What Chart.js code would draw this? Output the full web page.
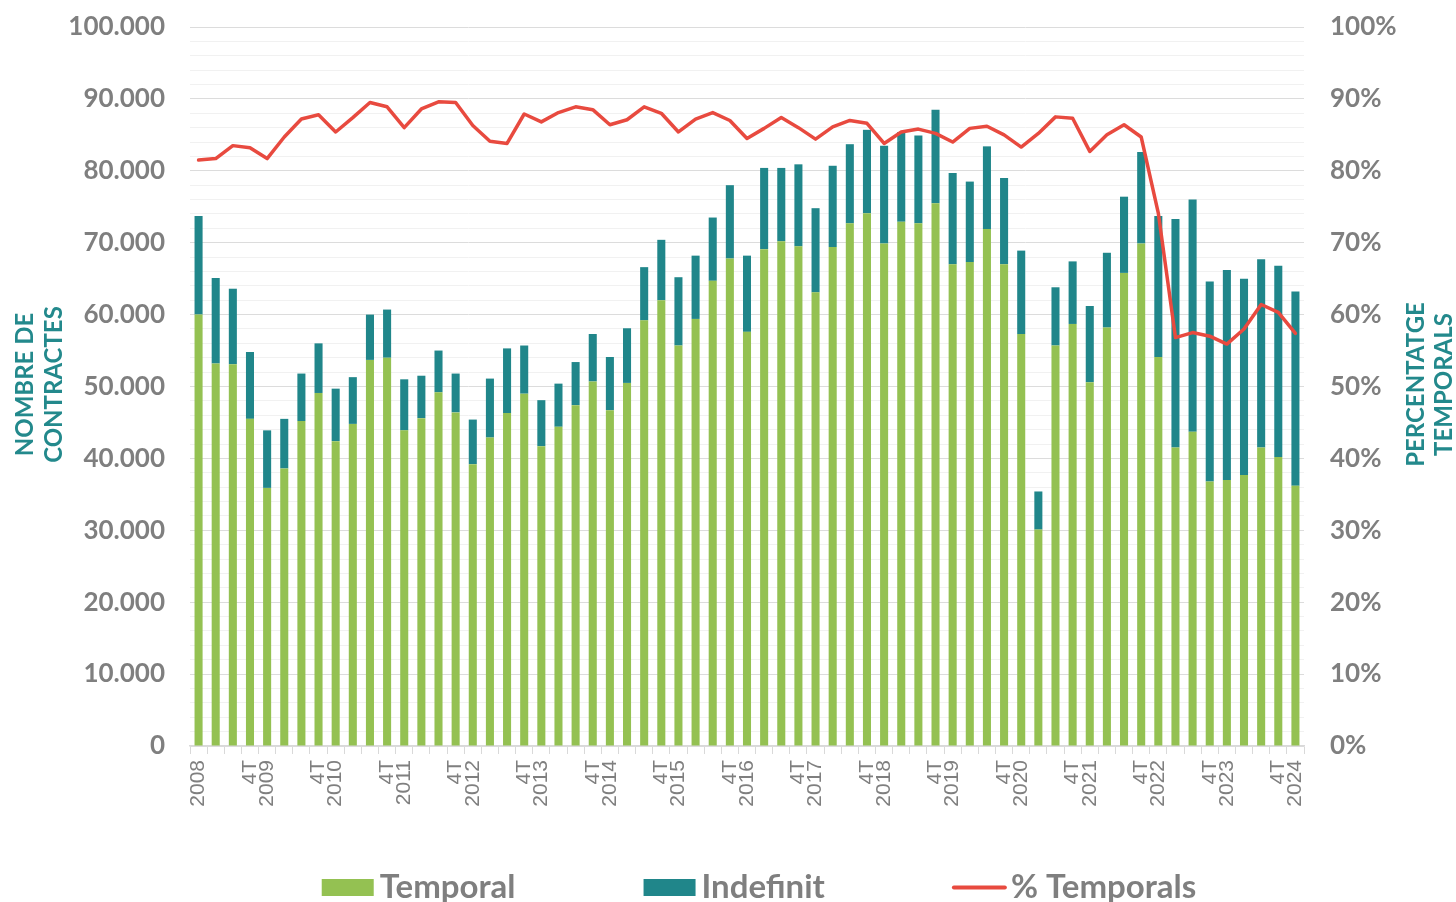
<!DOCTYPE html>
<html>
<head>
<meta charset="utf-8">
<script src="https://cdn.jsdelivr.net/npm/chart.js@4.4.1/dist/chart.umd.min.js"></script>
<style>
html,body{margin:0;padding:0;background:#ffffff;overflow:hidden;}
canvas{display:block;}
</style>
</head>
<body>
<canvas id="c" width="1456" height="902"></canvas>
<script>
// ---------- DATA ----------
const years = [2008,2009,2010,2011,2012,2013,2014,2015,2016,2017,2018,2019,2020,2021,2022,2023,2024];
const quarters = ['1T','2T','3T','4T'];
const quartersInLastYear = 1;

const categories = [];
years.forEach((y, yi) => {
  const n = (yi === years.length - 1) ? quartersInLastYear : 4;
  for (let q = 0; q < n; q++) categories.push(quarters[q] + ' ' + y);
});

// tick labels: year on 1st quarter, "4T" on 4th quarter
const tickLabels = categories.map(c => {
  const [q, y] = c.split(' ');
  if (q === '1T') return y;
  if (q === '4T') return '4T';
  return '';
});

const temporal = [
  60000,53200,53100,45500, 35900,38600,45200,49100, 42400,44800,53700,54000, 43900,45600,49200,46400,
  39200,42900,46300,49000, 41700,44400,47400,50700, 46700,50500,59200,62000, 55700,59400,64700,67800,
  57600,69100,70200,69500, 63100,69400,72700,74100, 69900,72900,72700,75500, 67000,67300,71900,67000,
  57300,30100,55700,58700, 50600,58200,65800,69900, 54100,41500,43700,36800, 37000,37700,41500,40200,
  36200
];
const indefinit = [
  13700,11900,10500,9300, 8000,6900,6600,6900, 7300,6500,6300,6700, 7100,5900,5800,5400,
  6200,8200,9000,6700, 6400,6000,6000,6600, 7400,7600,7400,8400, 9500,8800,8800,10200,
  10600,11300,10200,11400, 11700,11300,11000,11600, 13600,12500,12200,13000, 12700,11200,11500,12000,
  11600,5300,8100,8700, 10600,10400,10600,12700, 19600,31800,32300,27800, 29200,27300,26200,26600,
  27000
];
const pctTemporals = [
  81.5,81.7,83.5,83.2, 81.7,84.7,87.2,87.8, 85.4,87.4,89.5,88.9, 86.0,88.6,89.6,89.5,
  86.3,84.1,83.8,87.9, 86.8,88.1,88.9,88.5, 86.4,87.1,88.9,88.0, 85.4,87.2,88.1,87.0,
  84.5,85.9,87.4,86.0, 84.4,86.1,87.0,86.6, 83.8,85.4,85.8,85.2, 84.0,85.9,86.2,85.0,
  83.3,85.2,87.5,87.3, 82.7,85.0,86.4,84.7, 74.1,56.8,57.5,57.0, 55.9,58.0,61.4,60.3,
  57.4
];

const seriesNames = ['Temporal','Indefinit','% Temporals'];
const leftTitle = ['NOMBRE DE','CONTRACTES'];
const rightTitle = ['PERCENTATGE','TEMPORALS'];

// ---------- STYLE ----------
const GREEN = '#94c152';
const TEAL = '#20868a';
const RED = '#e84a3f';
const GREY = '#7f7f7f';
const TITLE_COLOR = '#23898c';

function fmtThousands(v){
  return String(v).replace(/\B(?=(\d{3})+(?!\d))/g, '.');
}

function noPad(scale){
  scale.paddingTop = 0; scale.paddingBottom = 0;
  scale.paddingLeft = 0; scale.paddingRight = 0;
}

const overlay = {
  id: 'overlay',
  afterDraw(chart){
    const ctx = chart.ctx;
    const ca = chart.chartArea;
    ctx.save();
    // axis titles (both read bottom-to-top)
    ctx.fillStyle = TITLE_COLOR;
    ctx.font = 'bold 24px Lato';
    ctx.textAlign = 'center';
    ctx.textBaseline = 'middle';
    const cy = (ca.top + ca.bottom) / 2 - 2;
    const rot = (txt, x) => {
      ctx.save(); ctx.translate(x, cy); ctx.rotate(-Math.PI/2); ctx.fillText(txt, 0, 0); ctx.restore();
    };
    rot(leftTitle[0], 25);
    rot(leftTitle[1], 54);
    rot(rightTitle[0], 1416);
    rot(rightTitle[1], 1444);

    // legend
    ctx.font = 'bold 33px Lato';
    ctx.textAlign = 'left';
    ctx.textBaseline = 'alphabetic';
    const boxW = 52, gapBox = 6, itemGap = 128;
    const ds = chart.data.datasets;
    const widths = ds.map(d => boxW + gapBox + ctx.measureText(d.label).width);
    const total = widths.reduce((a,b)=>a+b,0) + itemGap*(ds.length-1);
    let x = (ca.left + ca.right)/2 + 12 - total/2;
    const boxTop = 879, boxH = 17, baseline = 898;
    ds.forEach((d, i) => {
      if (d.type === 'line') {
        ctx.strokeStyle = d.borderColor; ctx.lineWidth = 4; ctx.lineCap = 'round';
        ctx.beginPath(); ctx.moveTo(x+1, boxTop + boxH/2); ctx.lineTo(x + boxW, boxTop + boxH/2); ctx.stroke();
      } else {
        ctx.fillStyle = d.backgroundColor;
        ctx.fillRect(x, boxTop, boxW, boxH);
      }
      ctx.fillStyle = GREY;
      ctx.fillText(d.label, x + boxW + gapBox, baseline);
      x += widths[i] + itemGap;
    });
    ctx.restore();
  }
};

function build(){
  new Chart(document.getElementById('c'), {
    type: 'bar',
    data: {
      labels: categories,
      datasets: [
        { type:'bar', label: seriesNames[0], data: temporal, backgroundColor: GREEN, yAxisID:'y', stack:'s', order:1,
          barPercentage:0.47, categoryPercentage:1.0 },
        { type:'bar', label: seriesNames[1], data: indefinit, backgroundColor: TEAL, yAxisID:'y', stack:'s', order:1,
          barPercentage:0.47, categoryPercentage:1.0 },
        { type:'line', label: seriesNames[2], data: pctTemporals, borderColor: RED, backgroundColor: RED, yAxisID:'y1',
          borderWidth:3.5, pointRadius:0, tension:0, order:0, borderJoinStyle:'round', borderCapStyle:'round' }
      ]
    },
    options: {
      responsive:false,
      animation:false,
      devicePixelRatio:1,
      layout:{ padding:{ top:27, left:0, right:0, bottom:0 } },
      plugins:{ legend:{ display:false }, tooltip:{ enabled:false } },
      scales:{
        x:{
          stacked:true,
          offset:true,
          grid:{ display:true, drawOnChartArea:false, drawTicks:true, tickLength:8, offset:true, color:'#d9d9d9', lineWidth:1 },
          border:{ display:true, color:'#d9d9d9', width:1.5 },
          ticks:{
            autoSkip:false, minRotation:90, maxRotation:90, padding:6,
            color:GREY, font:{ family:'"Liberation Sans", Arial, sans-serif', size:21 },
            callback:(v, i) => tickLabels[i]
          },
          afterFit(scale){ scale.height = 902 - 746; noPad(scale); }
        },
        y:{
          stacked:true,
          position:'left',
          min:0, max:100000,
          grid:{ drawTicks:false, color:(c)=> (c.tick && c.tick.value % 10000 === 0) ? '#dcdcdc' : '#f1f1f1', lineWidth:1 },
          border:{ display:false },
          ticks:{
            stepSize:2000, autoSkip:false, padding:25,
            color:GREY, font:{ family:'Lato', weight:'bold', size:26 },
            callback:(v) => (v % 10000 === 0) ? fmtThousands(v) : ''
          },
          afterFit(scale){ scale.width = 190; noPad(scale); }
        },
        y1:{
          position:'right',
          min:0, max:100,
          grid:{ drawOnChartArea:false, drawTicks:false },
          border:{ display:false },
          ticks:{
            stepSize:10, padding:26,
            color:GREY, font:{ family:'Lato', weight:'bold', size:26 },
            callback:(v) => v + '%'
          },
          afterFit(scale){ scale.width = 1456 - 1304; noPad(scale); }
        }
      }
    },
    plugins:[overlay]
  });
}

if (document.fonts && document.fonts.load) {
  Promise.all([
    document.fonts.load('bold 26px Lato'),
    document.fonts.load('21px "Liberation Sans"')
  ]).then(build, build);
} else {
  build();
}
</script>
</body>
</html>
